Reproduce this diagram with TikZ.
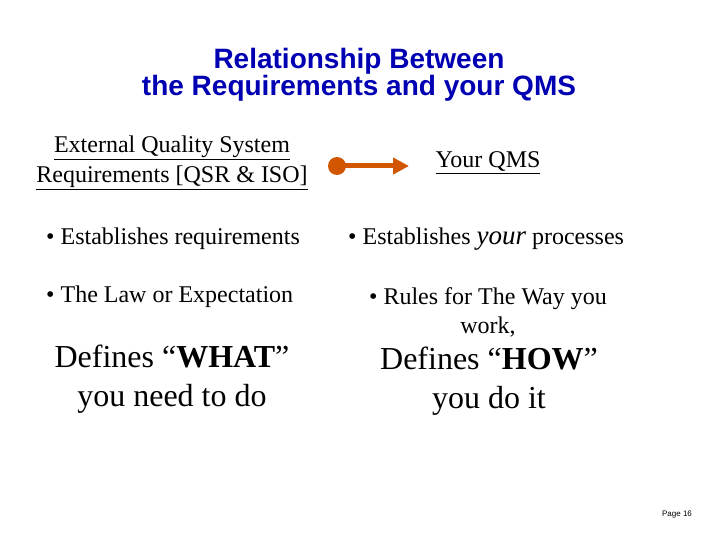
\documentclass[tikz,border=0pt]{standalone}
\usetikzlibrary{arrows.meta}
\usepackage{fontspec}
\setmainfont{Liberation Serif}
\newfontfamily\arialf{Liberation Sans}
\definecolor{arr}{RGB}{210,85,0}
\begin{document}
\begin{tikzpicture}[x=1pt,y=-1pt,
  body/.style={font=\fontsize{24}{29}\selectfont, inner sep=0pt, align=center},
  big/.style={font=\fontsize{32}{39}\selectfont, inner sep=0pt, align=center}]
\useasboundingbox (0,0) rectangle (720,540);
\node[font=\arialf\bfseries\fontsize{28}{27}\selectfont, text=blue!70!black, align=center, inner sep=0pt] (title) at (359,75) {Relationship Between\\the Requirements and your QMS};
\node[body, align=center, font=\fontsize{24}{30}\selectfont] (ext) at (172,163) {\underline{External Quality System}\\\underline{Requirements [QSR \& ISO]}};
\node[body] (qms) at (488,163) {\underline{Your QMS}};
\node[circle, fill=arr, minimum size=18pt, inner sep=0pt] (dot) at (337,166) {};
\coordinate (tip) at (409,166);
\draw[arr, line width=5pt, -{Triangle[length=16pt,width=16pt]}] (dot.center) -- (tip);
\node[body, anchor=west] (b1) at (46,239) {• Establishes requirements};
\node[body, anchor=west] (b2) at (348,239) {• Establishes {\itshape\fontsize{27}{29}\selectfont your} processes};
\node[body, anchor=west] (b3) at (46,297) {• The Law or Expectation};
\node[body] (b4) at (488,312) {• Rules for The Way you\\work,};
\node[big] (w) at (172,379) {Defines “\textbf{WHAT}”\\you need to do};
\node[big] (h) at (489,381) {Defines “\textbf{HOW}”\\you do it};
\node[font=\arialf\fontsize{8}{10}\selectfont, inner sep=0pt] (pg) at (677,515) {Page 16};
\end{tikzpicture}
\end{document}
